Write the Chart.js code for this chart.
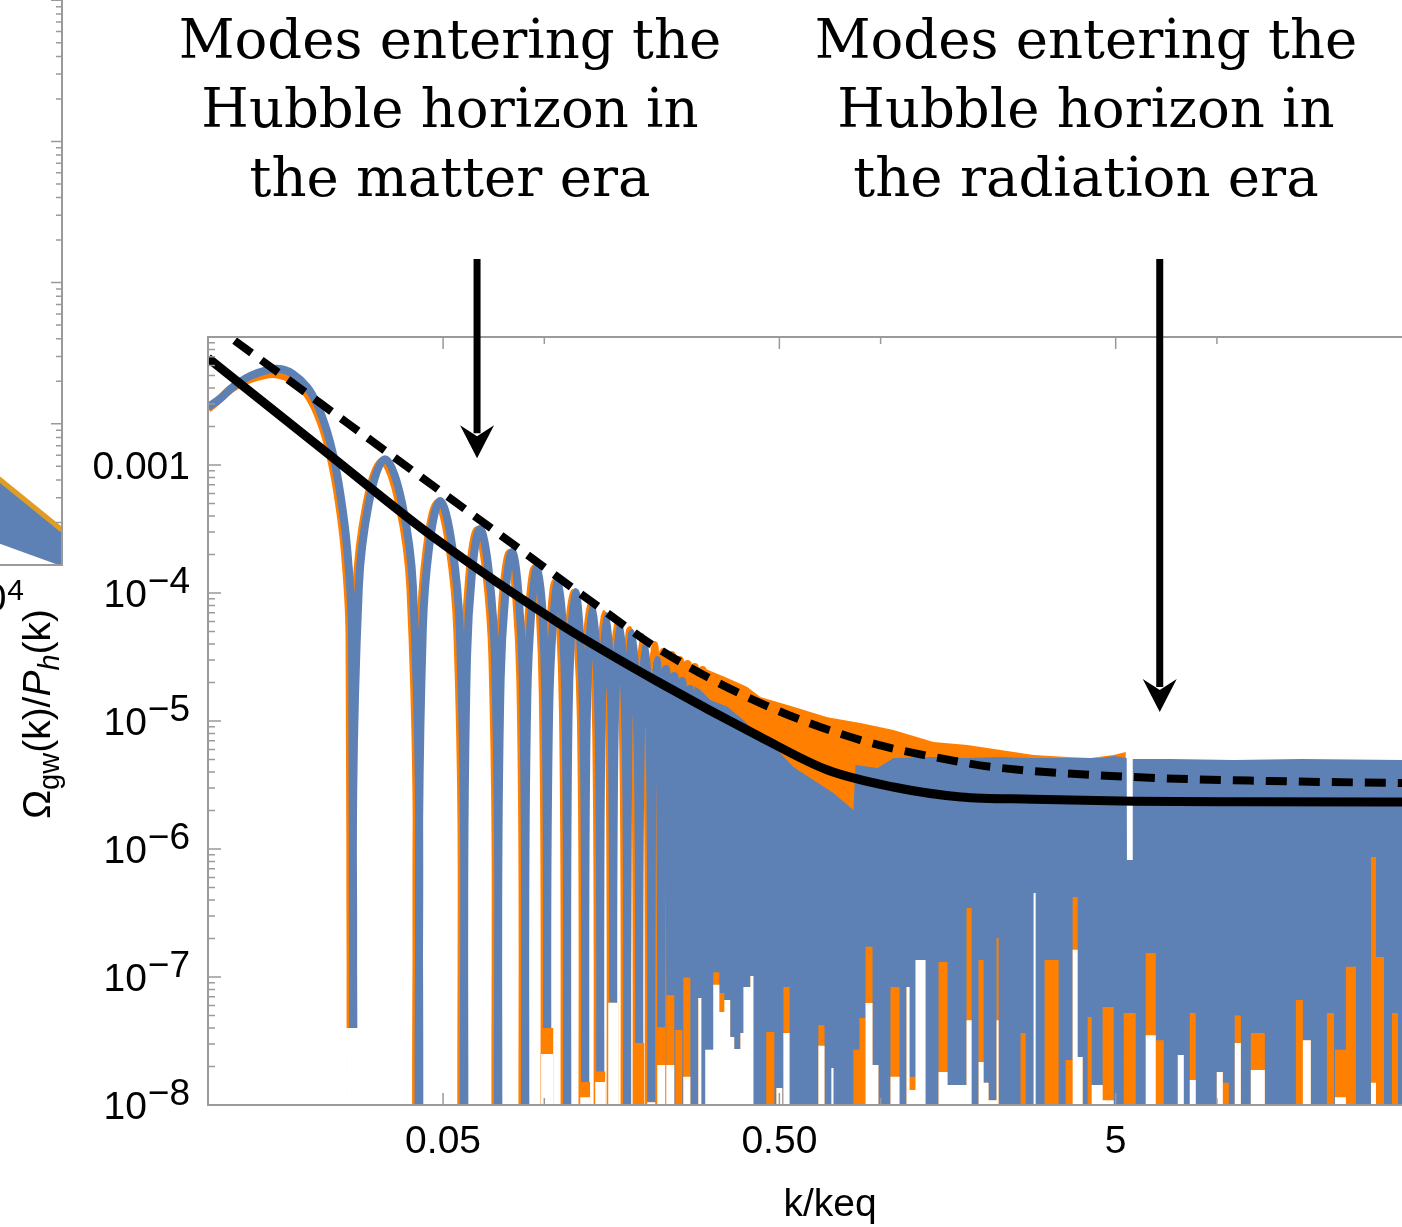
<!DOCTYPE html>
<html><head><meta charset="utf-8">
<script src="https://cdn.jsdelivr.net/npm/chart.js@4.4.1/dist/chart.umd.min.js"></script>
<style>
html,body{margin:0;padding:0;background:#fff;overflow:hidden;width:1402px;height:1227px;}
#side{position:absolute;left:-200px;top:-141px;}
#main{position:absolute;left:0;top:0;}
</style></head><body>
<canvas id="side" width="263" height="761"></canvas>
<canvas id="main" width="1470" height="1227"></canvas>
<script>
// ---------------- data (k/keq on x, Omega_gw(k)/P_h(k) on y) ----------------
const xRange = [0.01, 50];
const yRange = [1e-8, 1e-2];
const BELOW_AXIS = 2e-9;   // curve minima that fall below the plotted range
const FLOOR = 1e-10;
const B = BELOW_AXIS;

const xTickValues = [0.01, 0.05, 0.1, 0.5, 1, 5, 10, 50];
const xTickLabels = ['', '0.05', '', '0.50', '', '5', '', ''];
const xMajorTicks = [0.05, 0.5, 5, 50];
const yTickValues = [1e-2, 1e-3, 1e-4, 1e-5, 1e-6, 1e-7, 1e-8];
const yLabelBase = ['', '0.001', '10', '10', '10', '10', '10'];
const yLabelExp  = ['', '', '\u22124', '\u22125', '\u22126', '\u22127', '\u22128'];
const yMinorMultipliers = [2, 3, 4, 5, 6, 7, 8, 9];

// black dashed curve
const dashK = [0.01, 0.0336, 0.0739, 0.1466, 0.221, 0.439, 0.871, 1.73, 2.27, 5.66, 14.2, 35.2, 50];
const dashV = [1.33e-2, 1.296e-3, 2.85e-4, 7.64e-5, 3.59e-5, 1.38e-5, 7.1e-6, 4.78e-6, 4.3e-6, 3.65e-6, 3.4e-6, 3.28e-6, 3.25e-6];
// black solid curve
const solidK = [0.01, 0.0226, 0.0467, 0.114, 0.221, 0.439, 0.695, 1.09, 1.73, 2.85, 5.66, 12, 50];
const solidV = [6.86e-3, 1.24e-3, 2.74e-4, 5.5e-5, 1.98e-5, 7.5e-6, 4.14e-6, 3.05e-6, 2.55e-6, 2.45e-6, 2.36e-6, 2.34e-6, 2.33e-6];

// blue curve, resolved oscillations: (shoulder, peak, shoulder, zero) per arch
const blueArchK = [0.0100, 0.01084, 0.01186, 0.01334, 0.01498, 0.01637, 0.01789, 0.0197, 0.02108, 0.02258, 0.02352, 0.02467, 0.0259, 0.02681, 0.02698,
  0.02809, 0.0336, 0.04069, 0.04241,
  0.04353, 0.0490, 0.05607, 0.05775,
  0.05890, 0.0644, 0.07131, 0.0729,
  0.07415, 0.0802, 0.08634, 0.0877,
  0.08904, 0.0953, 0.1007, 0.1020,
  0.1034, 0.110, 0.1156, 0.1170,
  0.1180, 0.1236, 0.1307, 0.1323,
  0.1335, 0.139, 0.1452, 0.1467,
  0.1477, 0.153, 0.1589, 0.1603,
  0.1615, 0.1675, 0.1748, 0.1764,
  0.1775, 0.1826, 0.1898, 0.1916,
  0.1930, 0.1995, 0.2064, 0.2080,
  0.2093, 0.2155, 0.2213, 0.2228,
  0.2241, 0.230, 0.2357, 0.2369,
  0.2380, 0.2435, 0.2490, 0.2502,
  0.2514, 0.257, 0.2630, 0.2643,
  0.2656, 0.271, 0.2779, 0.2793,
  0.2802, 0.285, 0.2916, 0.2930,
  0.2943, 0.3005, 0.3065, 0.3096];
const blueArchV = [2.84e-3, 3.28e-3, 4.07e-3, 4.96e-3, 5.52e-3, 5.62e-3, 5.14e-3, 4.07e-3, 3.0e-3, 1.84e-3, 1.22e-3, 6.26e-4, 2.29e-4, 4.78e-5, B,
  1.11e-4, 1.11e-3, 1.11e-4, B,
  5.23e-5, 5.23e-4, 5.23e-5, B,
  3.16e-5, 3.16e-4, 3.16e-5, B,
  2.09e-5, 2.09e-4, 2.09e-5, B,
  1.6e-5, 1.60e-4, 1.6e-5, B,
  1.24e-5, 1.24e-4, 1.24e-5, B,
  1.02e-5, 1.02e-4, 1.02e-5, B,
  7.91e-6, 7.91e-5, 7.91e-6, B,
  6.61e-6, 6.61e-5, 6.61e-6, B,
  5.73e-6, 5.73e-5, 5.73e-6, B,
  4.87e-6, 4.87e-5, 4.87e-6, B,
  4.0e-6, 4.0e-5, 4.0e-6, B,
  3.0e-6, 3.0e-5, 3.0e-6, B,
  2.55e-6, 2.55e-5, 2.55e-6, B,
  2.25e-6, 2.25e-5, 2.25e-6, B,
  2.05e-6, 2.05e-5, 2.05e-6, B,
  1.78e-6, 1.78e-5, 1.78e-6, B,
  1.63e-6, 1.63e-5, 1.63e-6, B,
  1.43e-6, 1.43e-5, 1.43e-6, B];
// orange curve, resolved oscillations
const orangeArchK = [0.0100, 0.01066, 0.01166, 0.01311, 0.01473, 0.01609, 0.01759, 0.01937, 0.02072, 0.0222, 0.02312, 0.02425, 0.02546, 0.02635, 0.02652,
  0.02761, 0.0330, 0.04000, 0.04169,
  0.04279, 0.0482, 0.05512, 0.05677,
  0.05790, 0.0633, 0.07010, 0.07166,
  0.07289, 0.0789, 0.08487, 0.08621,
  0.08753, 0.0937, 0.09899, 0.10027,
  0.1016, 0.108, 0.1136, 0.1150,
  0.1160, 0.1215, 0.1285, 0.1300,
  0.1312, 0.1366, 0.1427, 0.1442,
  0.1452, 0.1504, 0.1562, 0.1576,
  0.1588, 0.1647, 0.1718, 0.1734,
  0.1745, 0.180, 0.1866, 0.1883,
  0.1897, 0.196, 0.2029, 0.2045,
  0.2057, 0.212, 0.2175, 0.2190,
  0.2203, 0.226, 0.2317, 0.2329,
  0.2340, 0.2395, 0.2448, 0.2460,
  0.2471, 0.2527, 0.2585, 0.2598,
  0.2611, 0.2665, 0.2732, 0.2745,
  0.2754, 0.280, 0.2866, 0.2880,
  0.2893, 0.2955, 0.3013, 0.3043];
const orangeArchV = [2.75e-3, 3.15e-3, 3.9e-3, 4.6e-3, 5.05e-3, 5.1e-3, 4.7e-3, 3.8e-3, 2.85e-3, 1.78e-3, 1.18e-3, 6.1e-4, 2.25e-4, 4.7e-5, B,
  1.07e-4, 1.07e-3, 1.07e-4, B,
  5.04e-5, 5.04e-4, 5.04e-5, B,
  3.1e-5, 3.1e-4, 3.1e-5, B,
  2.05e-5, 2.05e-4, 2.05e-5, B,
  1.57e-5, 1.57e-4, 1.57e-5, B,
  1.22e-5, 1.22e-4, 1.22e-5, B,
  1.0e-5, 1.0e-4, 1.0e-5, B,
  8.06e-6, 8.06e-5, 8.06e-6, B,
  6.86e-6, 6.86e-5, 6.86e-6, B,
  5.93e-6, 5.93e-5, 5.93e-6, B,
  5.14e-6, 5.14e-5, 5.14e-6, B,
  4.53e-6, 4.53e-5, 4.53e-6, B,
  3.92e-6, 3.92e-5, 3.92e-6, B,
  3.46e-6, 3.46e-5, 3.46e-6, B,
  3.28e-6, 3.28e-5, 3.28e-6, B,
  3.0e-6, 3.0e-5, 3.0e-6, B,
  2.79e-6, 2.79e-5, 2.79e-6, B,
  2.64e-6, 2.64e-5, 2.64e-6, B,
  2.5e-6, 2.5e-5, 2.5e-6, B];

// unresolved oscillations at high k: upper envelopes
const blueTopK = [0.2793, 0.2910, 0.3116, 0.3502, 0.3907, 0.4389, 0.4932, 0.5504, 0.6313, 0.7240, 0.8304, 0.8419, 0.9786, 1.0922,
  1.4071, 1.8133, 2.2741, 2.8506, 3.598, 4.511, 4.932, 5.392, 5.40, 5.61, 5.619, 7.291, 11.22, 17.77, 35.7, 50];
const blueTopV = [1.876e-5, 1.745e-5, 1.46e-5, 1.29e-5, 1.02e-5, 7.5e-6, 5.93e-6, 4.37e-6, 3.46e-6, 2.74e-6, 2.02e-6, 4.53e-6, 4.30e-6, 5.14e-6,
  5.24e-6, 5.14e-6, 5.24e-6, 5.14e-6, 5.14e-6, 5.14e-6, 5.33e-6, 5.14e-6, 8.2e-7, 8.2e-7, 5.05e-6, 5.05e-6, 4.95e-6, 5.05e-6, 4.95e-6, 4.95e-6];
const orangeTopK = [0.2793, 0.2971, 0.3502, 0.4015, 0.4389, 0.5504, 0.6947, 0.8712, 1.0922, 1.4364, 1.8133, 2.2741, 2.8506, 3.598, 4.213, 4.932, 5.356, 5.38, 50];
const orangeTopV = [2.64e-5, 2.6e-5, 2.17e-5, 1.84e-5, 1.54e-5, 1.29e-5, 1.07e-5, 9.65e-6, 8.5e-6, 6.86e-6, 6.5e-6, 5.93e-6, 5.42e-6, 5.24e-6, 5.14e-6, 5.42e-6, 5.73e-6, 5e-7, 5e-7];

// k-ranges where the curves' minima stay above the bottom of the plot
const gapK0 = [0.02573, 0.0978, 0.1279, 0.1417, 0.1549, 0.1850, 0.2023, 0.2167, 0.2305, 0.2452, 0.2590,
  0.287, 0.301, 0.318, 0.3315, 0.343, 0.357, 0.367, 0.383, 0.391, 0.410, 0.457, 0.490, 0.514, 0.653, 0.714,
  0.830, 0.865, 0.902, 0.946, 1.070, 1.194, 1.219, 1.270, 1.487, 1.581, 1.801, 1.956, 2.024, 2.094, 2.212,
  2.608, 2.851, 3.074, 3.549, 3.724, 3.853, 4.127, 4.242, 4.573, 5.283, 6.142, 6.578, 7.649, 8.304, 9.990,
  10.41, 11.30, 12.61, 17.17, 18.01, 21.23, 22.43, 24.18, 28.71, 29.71, 33.15];
const gapK1 = [0.02812, 0.1063, 0.1368, 0.1517, 0.1658, 0.1981, 0.2137, 0.2289, 0.2435, 0.2572, 0.2718,
  0.293, 0.318, 0.3315, 0.343, 0.357, 0.367, 0.383, 0.391, 0.410, 0.4185, 0.483, 0.510, 0.536, 0.681, 0.724,
  0.865, 0.902, 0.946, 0.985, 1.138, 1.219, 1.270, 1.360, 1.581, 1.801, 1.864, 2.024, 2.094, 2.212, 2.243,
  2.699, 2.890, 3.383, 3.724, 3.853, 3.988, 4.242, 4.573, 4.932, 5.736, 6.578, 6.949, 7.969, 8.650, 10.41,
  10.85, 11.78, 13.88, 18.01, 19.02, 22.28, 24.18, 25.90, 29.71, 31.38, 34.54];
// lowest value reached by the blue curve inside each range
const gapBlueMin = [4.0e-8, 4.0e-8, 1.51e-8, 1.83e-8, 6.3e-8, 3.05e-8, 1.05e-8, 4.05e-8, 7.2e-8, 3.85e-8, 9.9e-8,
  6.85e-8, 2.7e-8, 1.09e-7, 7.5e-8, 6.6e-8, 3.4e-8, 2.74e-8, 3.65e-8, 8.35e-8, 1.02e-7, 3.72e-8, 1.36e-8, 8.35e-8, 4.2e-8, 1.95e-8,
  2.7e-8, 4.78e-8, 1.72e-7, 2.05e-8, 8.35e-8, 8.35e-8, 1.66e-8, 1.36e-7, 1.31e-7, 1.43e-8, 3.46e-7, 1.36e-7, 1.49e-8, 1.09e-8, 2.02e-7,
  3.65e-8, 4.53e-7, 1.36e-7, 2.25e-8, 4.22e-7, 2.37e-8, 4.87e-8, 1.43e-8, 5.83e-8, 5.24e-8, 1.54e-7, 3.2e-8, 2.46e-8, 5.24e-8, 1.81e-8,
  1.49e-8, 5.0e-8, 3.65e-8, 6.6e-8, 3.2e-8, 5.24e-8, 2.7e-8, 1.20e-7, 8.66e-7, 1.43e-7, 5.24e-8];
// lowest value reached by the orange curve inside each range (null: not below the blue one)
const gapOrangeMin = [null, 2.5e-8, 1.15e-8, 1.51e-8, null, B, null, 2.05e-8, 2.05e-8, B, 1.66e-8,
  null, null, 8.7e-8, 5.33e-8, null, null, null, null, null, null, B, null, 3.65e-8, 2.9e-8, null,
  B, B, 6.26e-8, null, 1.66e-8, null, 1.31e-8, null, 1.81e-8, null, 4.6e-8, 2.17e-8, null, null, 4.6e-8,
  B, null, B, B, 1.63e-7, null, B, null, 1.09e-8, B, 3.5e-8, B, null, 1.57e-8, null,
  B, 3.05e-8, 1.88e-8, B, null, B, 1.15e-8, B, 1.49e-8, B, B];

// neighbouring panel (cut off at the left edge)
const sideXRange = [418, 31100];
const sideYRange = [1e-5, 1];
const sideK = [1e4, 3.11e4];
const sideOrange = [4.41e-5, 1.77e-5];
const sideBlueLow = [1.47e-5, 9.8e-6];
const sideTickValue = 1e4, sideTickBase = '10', sideTickExp = '4';

// annotations
const annotations = [
  {lines: ['Modes entering the', 'Hubble horizon in', 'the matter era'], cx: 450, arrowK: 0.0631, tipV: 1.13e-3},
  {lines: ['Modes entering the', 'Hubble horizon in', 'the radiation era'], cx: 1086, arrowK: 6.76, tipV: 1.176e-5}
];

// ---------------- styling ----------------
const BLUE = '#5E81B5', ORANGE = '#FF8000', SIDE_ORANGE = '#E19C24', FRAME = '#9a9a9a';
const SANS = '"Liberation Sans", Arial, sans-serif';
const SERIF = '"DejaVu Serif", serif';

const pts = (xs, ys) => xs.map((x, i) => ({x, y: ys[i]}));
// zeros are entered twice so that the spline forms a cusp there
function archPoints(ks, vs) {
  const out = [];
  ks.forEach((k, i) => { out.push({x: k, y: vs[i]}); if (vs[i] === BELOW_AXIS) out.push({x: k, y: vs[i]}); });
  return out;
}
function gapSeries(valueOf) {
  const out = [{x: xRange[0], y: FLOOR}];
  gapK0.forEach((k0, i) => { out.push({x: k0, y: valueOf(i)}); out.push({x: gapK1[i], y: FLOOR}); });
  out.push({x: xRange[1], y: FLOOR});
  return out;
}
const orangeUnder = gapSeries(i => gapBlueMin[i]);
const whiteUnder = gapSeries(i => gapOrangeMin[i] === null ? gapBlueMin[i] : gapOrangeMin[i]);

const yMinorTicks = [];
for (let e = -8; e < -2; e++) yMinorMultipliers.forEach(m => yMinorTicks.push(m * Math.pow(10, e)));

const mainPlugin = {
  id: 'mainDecor',
  afterDraw(chart) {
    const {ctx, chartArea: a} = chart;
    const xs = chart.scales.x, ys = chart.scales.y;
    ctx.save();
    ctx.strokeStyle = FRAME; ctx.lineWidth = 2;
    ctx.beginPath();
    ctx.moveTo(a.right, a.top); ctx.lineTo(a.left, a.top); ctx.lineTo(a.left, a.bottom); ctx.lineTo(a.right, a.bottom);
    ctx.stroke();
    ctx.lineWidth = 1.5;
    ctx.beginPath();
    xTickValues.forEach(v => {
      const px = xs.getPixelForValue(v);
      const len = xMajorTicks.includes(v) ? 12 : 7;
      ctx.moveTo(px, a.bottom); ctx.lineTo(px, a.bottom - len);
      ctx.moveTo(px, a.top); ctx.lineTo(px, a.top + len);
    });
    yTickValues.forEach(v => { const py = ys.getPixelForValue(v); ctx.moveTo(a.left, py); ctx.lineTo(a.left + 13, py); });
    yMinorTicks.forEach(v => { const py = ys.getPixelForValue(v); ctx.moveTo(a.left, py); ctx.lineTo(a.left + 7, py); });
    ctx.stroke();

    // y tick labels
    ctx.fillStyle = '#000'; ctx.textAlign = 'right'; ctx.textBaseline = 'alphabetic';
    yTickValues.forEach((v, i) => {
      if (!yLabelBase[i]) return;
      const py = ys.getPixelForValue(v);
      let right = 190;
      if (yLabelExp[i]) {
        ctx.font = '37px ' + SANS;
        ctx.fillText(yLabelExp[i], right, py);
        right -= ctx.measureText(yLabelExp[i]).width + 1;
      }
      ctx.font = '39px ' + SANS;
      ctx.fillText(yLabelBase[i], right, py + 14);
    });

    // y axis title  Ω_gw(k)/P_h(k)
    const parts = [
      {t: '\u03A9', f: '39px ' + SANS, dy: 0},
      {t: 'gw', f: '29px ' + SANS, dy: 9},
      {t: '(k)/', f: '39px ' + SANS, dy: 0},
      {t: 'P', f: 'italic 39px ' + SANS, dy: 0},
      {t: 'h', f: 'italic 29px ' + SANS, dy: 9},
      {t: '(k)', f: '39px ' + SANS, dy: 0}
    ];
    let total = 0;
    parts.forEach(p => { ctx.font = p.f; p.w = ctx.measureText(p.t).width; total += p.w; });
    ctx.save();
    ctx.translate(50, 714);
    ctx.rotate(-Math.PI / 2);
    ctx.textAlign = 'left';
    let cx = -total / 2;
    parts.forEach(p => { ctx.font = p.f; ctx.fillText(p.t, cx, p.dy); cx += p.w; });
    ctx.restore();

    // annotations
    ctx.font = '50px ' + SERIF;
    const fs = 50 * 543 / ctx.measureText(annotations[0].lines[0]).width;
    ctx.font = fs.toFixed(1) + 'px ' + SERIF;
    ctx.textAlign = 'center';
    annotations.forEach(an => {
      an.lines.forEach((ln, j) => ctx.fillText(ln, an.cx, 58 + 69 * j));
      const ax = xs.getPixelForValue(an.arrowK);
      const tip = ys.getPixelForValue(an.tipV);
      ctx.strokeStyle = '#000'; ctx.lineWidth = 7;
      ctx.beginPath(); ctx.moveTo(ax, 259); ctx.lineTo(ax, tip - 25); ctx.stroke();
      ctx.fillStyle = '#000';
      ctx.beginPath();
      ctx.moveTo(ax, tip); ctx.lineTo(ax - 17, tip - 33); ctx.lineTo(ax, tip - 22); ctx.lineTo(ax + 17, tip - 33);
      ctx.closePath(); ctx.fill();
    });
    ctx.restore();
  }
};

Chart.defaults.font.family = SANS;

new Chart(document.getElementById('main'), {
  type: 'line',
  data: {
    datasets: [
      {label: 'dashed', data: pts(dashK, dashV), borderColor: '#000', borderWidth: 8, borderDash: [21, 12],
        cubicInterpolationMode: 'monotone', fill: false, clip: 0},
      {label: 'solid', data: pts(solidK, solidV), borderColor: '#000', borderWidth: 9,
        cubicInterpolationMode: 'monotone', fill: false, clip: 0},
      {label: 'empty below both curves', data: whiteUnder, stepped: true, borderWidth: 0, borderColor: 'rgba(0,0,0,0)',
        backgroundColor: '#ffffff', fill: 'start', clip: 0},
      {label: 'orange below blue', data: orangeUnder, stepped: true, borderWidth: 0, borderColor: 'rgba(0,0,0,0)',
        backgroundColor: ORANGE, fill: 'start', clip: 0},
      {label: 'blue', data: archPoints(blueArchK, blueArchV), borderColor: BLUE, borderWidth: 8, tension: 0.4,
        borderJoinStyle: 'round', fill: false, clip: 0},
      {label: 'blue band', data: pts(blueTopK, blueTopV), borderWidth: 0, borderColor: 'rgba(0,0,0,0)',
        backgroundColor: BLUE, fill: 'start', clip: 0},
      {label: 'orange', data: archPoints(orangeArchK, orangeArchV), borderColor: ORANGE, borderWidth: 8, tension: 0.4,
        borderJoinStyle: 'round', fill: false, clip: 0},
      {label: 'orange band', data: pts(orangeTopK, orangeTopV), borderWidth: 0, borderColor: 'rgba(0,0,0,0)',
        backgroundColor: ORANGE, fill: 'start', clip: 0}
    ]
  },
  options: {
    responsive: false, animation: false, devicePixelRatio: 1,
    layout: {padding: {top: 337, right: 18, left: 0, bottom: 0}},
    plugins: {legend: {display: false}, tooltip: {enabled: false}},
    elements: {point: {radius: 0}, line: {capBezierPoints: false}},
    scales: {
      x: {
        type: 'logarithmic', min: xRange[0], max: xRange[1],
        grid: {display: false, drawTicks: false}, border: {display: false},
        afterBuildTicks: s => { s.ticks = xTickValues.map(v => ({value: v})); },
        ticks: {autoSkip: false, maxRotation: 0, minRotation: 0, padding: 14, color: '#000',
          font: {family: SANS, size: 39}, callback: (v, i) => xTickLabels[i]},
        title: {display: true, text: 'k/keq', color: '#000', font: {family: SANS, size: 39, lineHeight: 1.0},
          padding: {top: 0, bottom: 2}},
        afterFit: s => { s.height = 122; }
      },
      y: {
        type: 'logarithmic', min: yRange[0], max: yRange[1],
        grid: {display: false, drawTicks: false}, border: {display: false},
        afterBuildTicks: s => { s.ticks = yTickValues.map(v => ({value: v})); },
        ticks: {display: false},
        afterFit: s => { s.width = 208; }
      }
    }
  },
  plugins: [mainPlugin]
});

// ---------------- neighbouring panel ----------------
const sidePlugin = {
  id: 'sideDecor',
  afterDraw(chart) {
    const {ctx, chartArea: a} = chart;
    const xs = chart.scales.x, ys = chart.scales.y;
    ctx.save();
    ctx.strokeStyle = FRAME; ctx.lineWidth = 2;
    ctx.beginPath();
    ctx.moveTo(a.right, a.top); ctx.lineTo(a.right, a.bottom); ctx.lineTo(a.left, a.bottom);
    ctx.stroke();
    ctx.lineWidth = 1.5; ctx.beginPath();
    for (let e = -5; e <= 0; e++) {
      const py = ys.getPixelForValue(Math.pow(10, e));
      ctx.moveTo(a.right, py); ctx.lineTo(a.right - 11, py);
      if (e < 0) yMinorMultipliers.forEach(m => { const q = ys.getPixelForValue(m * Math.pow(10, e)); ctx.moveTo(a.right, q); ctx.lineTo(a.right - 6, q); });
    }
    ctx.stroke();
    const px = xs.getPixelForValue(sideTickValue);
    ctx.fillStyle = '#000'; ctx.textBaseline = 'alphabetic';
    ctx.font = '39px ' + SANS; const wb = ctx.measureText(sideTickBase).width;
    ctx.font = '30px ' + SANS; const we = ctx.measureText(sideTickExp).width;
    const left = px - (wb + we) / 2;
    ctx.textAlign = 'left';
    ctx.font = '39px ' + SANS; ctx.fillText(sideTickBase, left, a.bottom + 46);
    ctx.font = '30px ' + SANS; ctx.fillText(sideTickExp, left + wb + 1, a.bottom + 35);
    ctx.restore();
  }
};

new Chart(document.getElementById('side'), {
  type: 'line',
  data: {
    datasets: [
      {data: pts(sideK, sideOrange), borderColor: SIDE_ORANGE, borderWidth: 5, fill: false, clip: 0},
      {data: pts(sideK, sideBlueLow), borderWidth: 0, borderColor: 'rgba(0,0,0,0)', backgroundColor: '#ffffff', fill: 'start', clip: 0},
      {data: pts(sideK, sideOrange), borderWidth: 0, borderColor: 'rgba(0,0,0,0)', backgroundColor: BLUE, fill: 'start', clip: 0}
    ]
  },
  options: {
    responsive: false, animation: false, devicePixelRatio: 1,
    layout: {padding: {top: 0, right: 1, left: 0, bottom: 55}},
    plugins: {legend: {display: false}, tooltip: {enabled: false}},
    elements: {point: {radius: 0}},
    scales: {
      x: {type: 'logarithmic', min: sideXRange[0], max: sideXRange[1], display: false},
      y: {type: 'logarithmic', min: sideYRange[0], max: sideYRange[1], display: false}
    }
  },
  plugins: [sidePlugin]
});
</script>
</body></html>
